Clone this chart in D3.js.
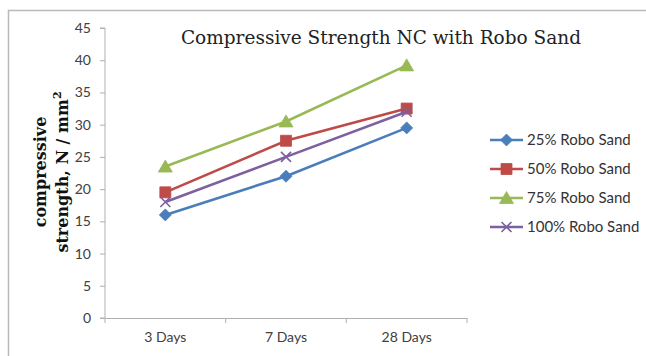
<!DOCTYPE html>
<html>
<head>
<meta charset="utf-8">
<script src="https://cdn.jsdelivr.net/npm/d3@7"></script>
<style>
  html, body { margin: 0; padding: 0; background: #fff; }
  svg { display: block; }
</style>
</head>
<body>
<svg id="chart" width="646" height="356"></svg>
<script>
// Curing ages on the x axis
const categories = ["3 Days", "7 Days", "28 Days"];
// Compressive strength (N/mm²) for each replacement level
const sand25 = [16, 22, 29.5];
const sand50 = [19.5, 27.5, 32.5];
const sand75 = [23.5, 30.5, 39.2];
const sand100 = [18, 25, 32];
const seriesNames = ["25% Robo Sand", "50% Robo Sand", "75% Robo Sand", "100% Robo Sand"];
const yTicks = [0, 5, 10, 15, 20, 25, 30, 35, 40, 45];

const colors = ["#4a7ebb", "#be4b48", "#98b954", "#7d60a0"];
const symbols = ["diamond", "square", "triangle", "cross"];
const series = [sand25, sand50, sand75, sand100].map((values, i) => ({
  name: seriesNames[i], values, color: colors[i], symbol: symbols[i]
}));

const sansFont = "Lato, 'Open Sans', sans-serif";
const serifFont = "'DejaVu Serif', 'Liberation Serif', serif";

const svg = d3.select("#chart");

// Outer chart-area frame (top and left edges visible)
svg.append("path")
  .attr("d", "M8.5,356 V10.5 H646")
  .attr("fill", "none")
  .attr("stroke", "#b9b9b9")
  .attr("stroke-width", 1.5);

const plot = { left: 105, right: 467, top: 28, bottom: 318 };

const x = d3.scaleBand().domain(categories).range([plot.left, plot.right]);
const y = d3.scaleLinear().domain([0, 45]).range([plot.bottom, plot.top]);

// Y axis
const yAxis = svg.append("g")
  .attr("transform", `translate(${plot.left},0)`)
  .call(d3.axisLeft(y).tickValues(yTicks).tickSize(5).tickPadding(9));
yAxis.select(".domain").attr("stroke", "#b0b0b0").attr("d", `M-5,${plot.bottom}H0V${plot.top}H-5`);
yAxis.selectAll(".tick line").attr("stroke", "#b0b0b0");
yAxis.selectAll("text")
  .attr("font-family", sansFont)
  .attr("font-size", 14)
  .attr("fill", "#404040");

// X axis
const xAxis = svg.append("g")
  .attr("transform", `translate(0,${plot.bottom})`)
  .call(d3.axisBottom(x).tickSize(0).tickPadding(14));
xAxis.select(".domain").attr("stroke", "#b0b0b0");
xAxis.selectAll("text")
  .attr("font-family", sansFont)
  .attr("font-size", 14)
  .attr("fill", "#404040");
// Tick marks sit on the category boundaries
const boundaries = categories.map(c => x(c)).concat([plot.right]);
xAxis.selectAll(".bound")
  .data(boundaries)
  .join("line")
  .attr("class", "bound")
  .attr("x1", d => d).attr("x2", d => d)
  .attr("y1", 0).attr("y2", 5)
  .attr("stroke", "#b0b0b0");

// Title
svg.append("text")
  .attr("x", 381).attr("y", 44)
  .attr("text-anchor", "middle")
  .attr("font-family", serifFont)
  .attr("font-size", 18.5)
  .attr("fill", "#222")
  .text("Compressive Strength NC with Robo Sand");

// Y axis title (two lines)
const yTitle = svg.append("text")
  .attr("transform", "translate(0,172) rotate(-90)")
  .attr("text-anchor", "middle")
  .attr("font-family", serifFont)
  .attr("font-weight", "bold")
  .attr("font-size", 16)
  .attr("fill", "#111");
yTitle.append("tspan").attr("x", 0).attr("y", 46).text("compressive");
const l2 = yTitle.append("tspan").attr("x", 0).attr("y", 68);
l2.append("tspan").text("strength, N / mm");
l2.append("tspan").attr("dy", -7).attr("font-size", 11).text("2");

const cx = c => x(c) + x.bandwidth() / 2;
const line = d3.line().x((d, i) => cx(categories[i])).y(d => y(d));

// Marker shapes, drawn around the origin
function markerPath(kind) {
  const p = d3.path();
  if (kind === "diamond") {
    const r = 6; p.moveTo(0, -r); p.lineTo(r, 0); p.lineTo(0, r); p.lineTo(-r, 0); p.closePath();
  } else if (kind === "square") {
    const r = 5.5; p.rect(-r, -r, 2 * r, 2 * r);
  } else if (kind === "triangle") {
    p.moveTo(0, -6.5); p.lineTo(7, 5.5); p.lineTo(-7, 5.5); p.closePath();
  } else {
    const r = 5; p.moveTo(-r, -r); p.lineTo(r, r); p.moveTo(r, -r); p.lineTo(-r, r);
  }
  return p.toString();
}

function drawMarker(g, s, px, py) {
  const p = g.append("path")
    .attr("d", markerPath(s.symbol))
    .attr("transform", `translate(${px},${py})`);
  if (s.symbol === "cross") {
    p.attr("fill", "none").attr("stroke", s.color).attr("stroke-width", 1.6);
  } else {
    p.attr("fill", s.color).attr("stroke", s.color).attr("stroke-width", 0.8);
  }
}

series.forEach(s => {
  const g = svg.append("g");
  g.append("path")
    .attr("d", line(s.values))
    .attr("fill", "none")
    .attr("stroke", s.color)
    .attr("stroke-width", 2.6);
  s.values.forEach((v, i) => drawMarker(g, s, cx(categories[i]), y(v)));
});

// Legend
const legend = svg.append("g");
series.forEach((s, i) => {
  const ly = 140 + i * 29;
  const g = legend.append("g");
  g.append("line")
    .attr("x1", 490).attr("x2", 523)
    .attr("y1", ly).attr("y2", ly)
    .attr("stroke", s.color).attr("stroke-width", 2.6);
  drawMarker(g, s, 506.5, ly);
  g.append("text")
    .attr("x", 527).attr("y", ly + 5)
    .attr("font-family", sansFont)
    .attr("font-size", 15)
    .attr("fill", "#333")
    .text(s.name);
});
</script>
</body>
</html>
